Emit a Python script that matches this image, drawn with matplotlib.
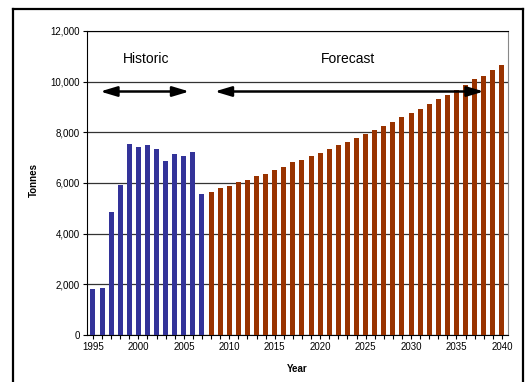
# Historic and forecast tonnes by year, bar chart with period arrows

import numpy as np
import matplotlib.pyplot as plt
from matplotlib.lines import Line2D

plt.rcParams['font.family'] = ['Liberation Sans', 'DejaVu Sans']

hist_years = list(range(1995, 2008))
hist_vals = [1800, 1840, 4860, 5930, 7550, 7430, 7510, 7355, 6880, 7160, 7080, 7240, 5580]

fc_years = list(range(2008, 2041))
fc_vals = [5660, 5810, 5890, 6050, 6130, 6290, 6370, 6530, 6650, 6810, 6910,
           7060, 7180, 7330, 7490, 7610, 7760, 7920, 8080, 8235, 8390, 8590,
           8760, 8910, 9110, 9300, 9460, 9650, 9850, 10090, 10240, 10440, 10670]

yticks = [0, 2000, 4000, 6000, 8000, 10000, 12000]
xticks = [1995, 2000, 2005, 2010, 2015, 2020, 2025, 2030, 2035, 2040]

fig = plt.figure(figsize=(5.29, 3.82), dpi=100)
ax = fig.add_axes([0.1645, 0.123, 0.7955, 0.796])

ax.bar(hist_years, hist_vals, width=0.55, color='#333399', zorder=3)
ax.bar(fc_years, fc_vals, width=0.55, color='#993300', zorder=3)

ax.set_xlim(1994.35, 2040.65)
ax.set_ylim(0, 12000)
ax.set_yticks(yticks)
ax.set_yticklabels(['{:,}'.format(v) for v in yticks], fontsize=7)
ax.set_xticks(xticks)
ax.set_xticklabels([str(v) for v in xticks], fontsize=7)
ax.set_xticks(range(1995, 2041), minor=True)
ax.tick_params(axis='x', which='both', length=3, width=0.8, direction='out', pad=2)
ax.tick_params(axis='y', length=3, width=0.8, direction='out', pad=2)
ax.yaxis.grid(True, color='#333333', lw=0.9, zorder=1)

for s in ['left', 'bottom', 'top']:
    ax.spines[s].set_color('black')
ax.spines['right'].set_color('#888888')

ax.set_xlabel('Year', fontsize=7, fontweight='bold')
ax.xaxis.set_label_coords(0.5, -0.095)
ax.set_ylabel('Tonnes', fontsize=7, fontweight='bold')
ax.yaxis.set_label_coords(-0.115, 0.51)

# period arrows
arrow_y = 9610
for x0, x1 in [(1995.8, 2005.6), (2008.4, 2038.0)]:
    ax.annotate('', xy=(x0, arrow_y), xytext=(x1, arrow_y),
                arrowprops=dict(arrowstyle='<|-|>,head_length=1.0,head_width=0.3',
                                color='black', lw=1.8,
                                mutation_scale=10, shrinkA=0, shrinkB=0), zorder=5)

ax.text(2000.9, 10900, 'Historic', fontsize=10, ha='center', va='center', zorder=5)
ax.text(2023.1, 10900, 'Forecast', fontsize=10, ha='center', va='center', zorder=5)

# outer frame
W, H = 529, 382
fx0, fx1, fy = 13 / W, 523 / W, 1 - 9 / H
for xs, ys in [([fx0, fx0], [0, fy]), ([fx0, fx1], [fy, fy]), ([fx1, fx1], [fy, 0])]:
    fig.add_artist(Line2D(xs, ys, color='black', lw=1.6, transform=fig.transFigure))

plt.savefig('out.png', dpi=100)
print('** END')
